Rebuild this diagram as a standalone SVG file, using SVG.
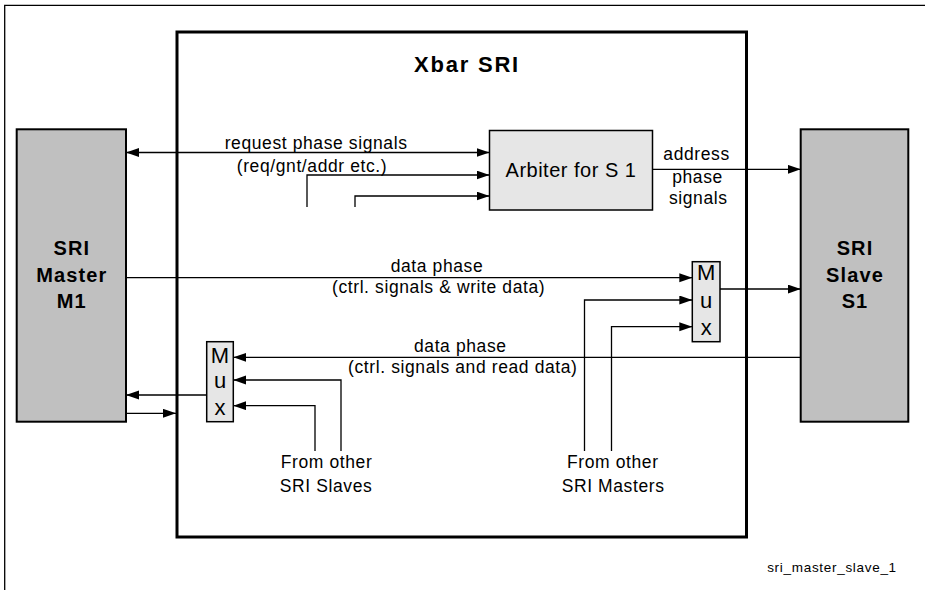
<svg xmlns="http://www.w3.org/2000/svg" width="925" height="590" viewBox="0 0 925 590">
<style>
  text { font-family: "Liberation Sans", Arial, sans-serif; fill: #000; }
  .lbl { font-size: 17.5px; letter-spacing: 0.6px; text-anchor: middle; }
  .big { font-size: 20px; font-weight: bold; letter-spacing: 1.1px; text-anchor: middle; }
  .title { font-size: 22px; font-weight: bold; letter-spacing: 1.8px; text-anchor: middle; }
  .arb { font-size: 20px; letter-spacing: 0.5px; text-anchor: middle; }
  .mux { font-size: 22px; text-anchor: middle; }
  .id { font-size: 13.5px; letter-spacing: 0.7px; text-anchor: middle; }
  .unit { fill: #c0c0c0; stroke: #000; stroke-width: 2; }
  .blk { fill: #e6e6e6; stroke: #000; stroke-width: 1.5; }
  .con path { fill: none; stroke: #000; stroke-width: 1.3; }
</style>
<defs>
  <marker id="ah" markerUnits="userSpaceOnUse" markerWidth="14" markerHeight="10" refX="13" refY="4.5" orient="auto-start-reverse">
    <path d="M0,0 L13,4.5 L0,9 z" fill="#000"/>
  </marker>
</defs>
<rect width="925" height="590" fill="#fff"/>
<path d="M925,5.3 H4.7 V590" fill="none" stroke="#000" stroke-width="1.3"/>

<g id="xbar">
  <rect x="177" y="32" width="569.5" height="505" fill="none" stroke="#000" stroke-width="3"/>
  <text class="title" x="467" y="72">Xbar SRI</text>
</g>

<g id="master">
  <rect class="unit" x="16.7" y="129.3" width="109.3" height="292.4"/>
  <text class="big" x="71.8" y="255">SRI</text>
  <text class="big" x="71.8" y="281.7">Master</text>
  <text class="big" x="71.8" y="308.3">M1</text>
</g>

<g id="slave">
  <rect class="unit" x="800.7" y="129.3" width="107.6" height="292.4"/>
  <text class="big" x="855" y="255">SRI</text>
  <text class="big" x="855" y="281.7">Slave</text>
  <text class="big" x="855" y="308.3">S1</text>
</g>

<g id="arbiter">
  <rect class="blk" x="489.5" y="130.5" width="163" height="79.5"/>
  <text class="arb" x="571" y="176.7">Arbiter for S 1</text>
</g>

<g id="mux_write">
  <rect class="blk" x="692.3" y="261.7" width="27.7" height="80"/>
  <text class="mux" x="706.2" y="280">M</text>
  <text class="mux" x="706.2" y="308">u</text>
  <text class="mux" x="706.2" y="335">x</text>
</g>

<g id="mux_read">
  <rect class="blk" x="206.7" y="341.7" width="26.6" height="80"/>
  <text class="mux" x="220" y="362.7">M</text>
  <text class="mux" x="220" y="388">u</text>
  <text class="mux" x="220" y="415">x</text>
</g>

<g id="connectors" class="con">
  <path d="M126,152.5 H489.5" marker-start="url(#ah)" marker-end="url(#ah)"/>
  <path d="M307,207 V175 H489.5" marker-end="url(#ah)"/>
  <path d="M355,207 V196 H489.5" marker-end="url(#ah)"/>
  <path d="M652.5,169.3 H800.7" marker-end="url(#ah)"/>
  <path d="M126,277.7 H692.3" marker-end="url(#ah)"/>
  <path d="M584.5,451 V300 H692.3" marker-end="url(#ah)"/>
  <path d="M611.5,451 V326.7 H692.3" marker-end="url(#ah)"/>
  <path d="M720,289 H800.7" marker-end="url(#ah)"/>
  <path d="M800.7,357.3 H233.3" marker-end="url(#ah)"/>
  <path d="M341,451 V380 H233.3" marker-end="url(#ah)"/>
  <path d="M315,451 V405.7 H233.3" marker-end="url(#ah)"/>
  <path d="M206.7,395 H126" marker-end="url(#ah)"/>
  <path d="M126,413.3 H176" marker-end="url(#ah)"/>
</g>

<g id="labels">
  <text class="lbl" x="316.1" y="149">request phase signals</text>
  <text class="lbl" x="312" y="172.3">(req/gnt/addr etc.)</text>
  <text class="lbl" x="696.6" y="160">address</text>
  <text class="lbl" x="697.5" y="183.3">phase</text>
  <text class="lbl" x="698.3" y="204.3">signals</text>
  <text class="lbl" x="437" y="272.3">data phase</text>
  <text class="lbl" x="438.6" y="293">(ctrl. signals &amp; write data)</text>
  <text class="lbl" x="460.3" y="352">data phase</text>
  <text class="lbl" x="462.8" y="372.5">(ctrl. signals and read data)</text>
  <text class="lbl" x="326.6" y="468.3">From other</text>
  <text class="lbl" x="326.1" y="491.7">SRI Slaves</text>
  <text class="lbl" x="612.8" y="468.3">From other</text>
  <text class="lbl" x="613.1" y="491.7">SRI Masters</text>
  <text class="id" x="832" y="572.3">sri_master_slave_1</text>
</g>
</svg>
